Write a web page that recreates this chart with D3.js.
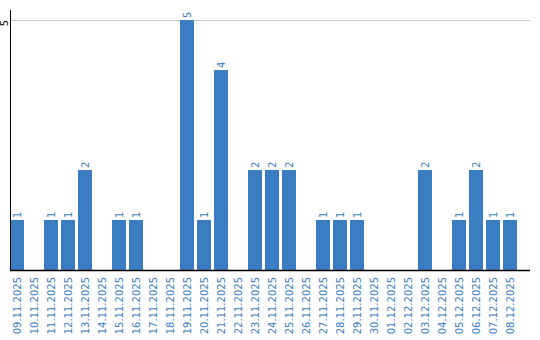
<!DOCTYPE html>
<html><head><meta charset="utf-8">
<script src="https://cdn.jsdelivr.net/npm/d3@7"></script>
<style>body{margin:0;background:#fff}svg{display:block}text{font-family:"DejaVu Sans",Verdana,sans-serif}</style>
</head><body>
<svg id="c" width="540" height="340"></svg>
<script>
const dates = ["09.11.2025","10.11.2025","11.11.2025","12.11.2025","13.11.2025","14.11.2025","15.11.2025","16.11.2025","17.11.2025","18.11.2025","19.11.2025","20.11.2025","21.11.2025","22.11.2025","23.11.2025","24.11.2025","25.11.2025","26.11.2025","27.11.2025","28.11.2025","29.11.2025","30.11.2025","01.12.2025","02.12.2025","03.12.2025","04.12.2025","05.12.2025","06.12.2025","07.12.2025","08.12.2025"];
const counts = [1,0,1,1,2,0,1,1,0,0,5,1,4,0,2,2,2,0,1,1,1,0,0,0,2,0,1,2,1,1];
const yTicks = [5];

const svg = d3.select("#c");
const blue = "#3b7dc3";
const x = d3.scaleBand().domain(dates).range([10, 517]).paddingInner(3/17).paddingOuter(0);
const y = d3.scaleLinear().domain([0, 5]).range([270, 20]);

// gridline
svg.selectAll("line.grid").data(yTicks).enter().append("line")
  .attr("x1", 10).attr("x2", 530).attr("y1", d => y(d)).attr("y2", d => y(d))
  .attr("stroke", "#c8c8c8").attr("stroke-width", 1).attr("shape-rendering","crispEdges");

// bars
svg.selectAll("rect.bar").data(dates).enter().append("rect")
  .attr("x", (d) => x(d)).attr("width", x.bandwidth())
  .attr("y", (d,i) => y(counts[i])).attr("height", (d,i) => y(0) - y(counts[i]))
  .attr("fill", blue);

// value labels
svg.selectAll("text.val").data(dates.filter((d,i)=>counts[i]>0)).enter().append("text")
  .attr("transform", d => { const i = dates.indexOf(d); return `translate(${x(d)+x.bandwidth()/2},${y(counts[i])-2}) rotate(-90)`; })
  .attr("dy","0.35em").attr("text-anchor","start")
  .attr("font-size", 10).attr("fill", blue)
  .text(d => counts[dates.indexOf(d)]);

// x labels
svg.selectAll("text.xl").data(dates).enter().append("text")
  .attr("transform", d => `translate(${x(d)+x.bandwidth()/2},277) rotate(-90)`)
  .attr("dy","0.35em").attr("text-anchor","end")
  .attr("font-size", 10).attr("fill", blue)
  .text(d => d);

// y tick labels
svg.selectAll("text.yl").data(yTicks).enter().append("text")
  .attr("transform", d => `translate(4.5,${y(d)+3}) rotate(-90)`)
  .attr("dy","0.35em").attr("text-anchor","middle")
  .attr("font-size", 10).attr("fill", "#000")
  .text(d => d);

// axes
svg.append("line").attr("x1", 10.5).attr("x2", 10.5).attr("y1", 10).attr("y2", 270)
  .attr("stroke", "#000").attr("stroke-width", 1);
svg.append("line").attr("x1", 10).attr("x2", 530).attr("y1", 270.5).attr("y2", 270.5)
  .attr("stroke", "#000").attr("stroke-width", 1.5);
</script>
</body></html>
